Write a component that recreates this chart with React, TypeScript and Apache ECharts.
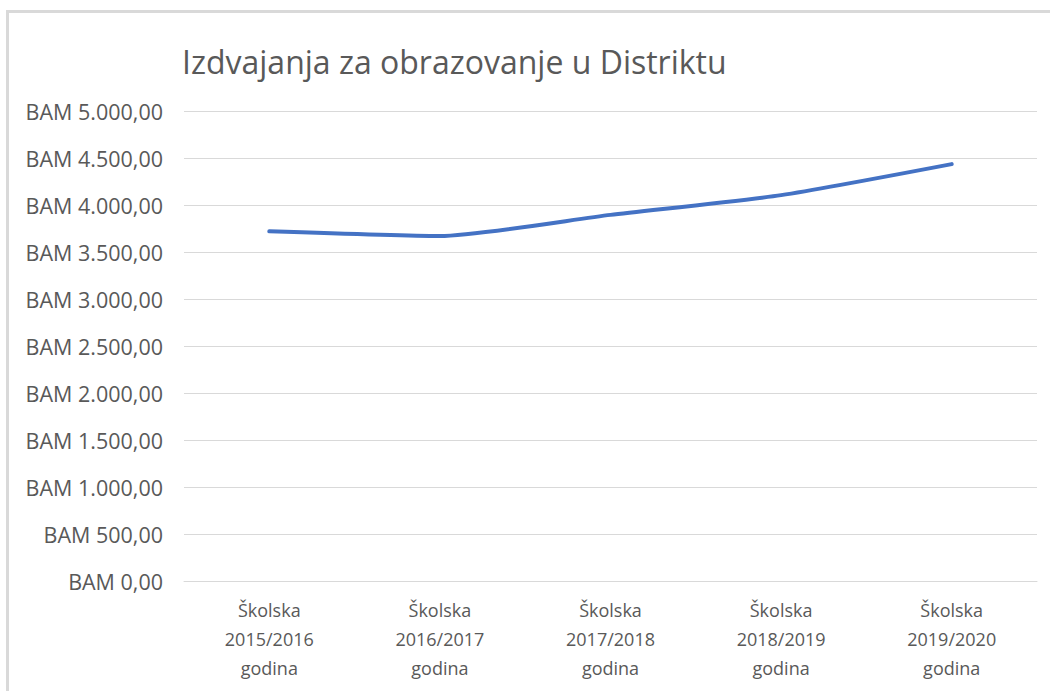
import React, { useEffect, useRef } from "react";
import * as echarts from "echarts";

const categories = [
  "Školska\n2015/2016\ngodina",
  "Školska\n2016/2017\ngodina",
  "Školska\n2017/2018\ngodina",
  "Školska\n2018/2019\ngodina",
  "Školska\n2019/2020\ngodina",
];
const values = [3720, 3670, 3895, 4105, 4435];
const yTicks = [0, 500, 1000, 1500, 2000, 2500, 3000, 3500, 4000, 4500, 5000];

const titleText = "Izdvajanja za obrazovanje u Distriktu";

function fmtBAM(v: number): string {
  const fixed = v.toFixed(2);
  const [intPart, dec] = fixed.split(".");
  const withSep = intPart.replace(/\B(?=(\d{3})+(?!\d))/g, ".");
  return "BAM " + withSep + "," + dec;
}

export default function App() {
  const ref = useRef<HTMLDivElement>(null);
  useEffect(() => {
    if (!ref.current) return;
    const chart = echarts.init(ref.current, undefined, { renderer: "svg" });
    chart.setOption({
      animation: false,
      backgroundColor: "#ffffff",
      title: {
        text: titleText,
        left: 177,
        top: 40,
        textStyle: {
          fontFamily: "Open Sans",
          fontSize: 32,
          fontWeight: "normal",
          color: "#595959",
        },
      },
      graphic: [
        {
          type: "rect",
          shape: { x: 6, y: 10, width: 3, height: 700 },
          style: { fill: "#d9d9d9" },
          silent: true,
        },
        {
          type: "rect",
          shape: { x: 6, y: 10, width: 1060, height: 3 },
          style: { fill: "#d9d9d9" },
          silent: true,
        },
      ],
      grid: {
        left: 184,
        right: 13,
        top: 111,
        bottom: 110,
        containLabel: false,
      },
      xAxis: {
        type: "category",
        data: categories,
        boundaryGap: true,
        axisLine: { show: true, lineStyle: { color: "#d9d9d9", width: 1 } },
        axisTick: { show: false },
        axisLabel: {
          margin: 14,
          fontFamily: "Open Sans",
          fontSize: 18,
          lineHeight: 29,
          color: "#595959",
          align: "center",
        },
      },
      yAxis: {
        type: "value",
        min: yTicks[0],
        max: yTicks[yTicks.length - 1],
        interval: 500,
        axisLine: { show: false },
        axisTick: { show: false },
        splitLine: { show: true, lineStyle: { color: "#d9d9d9", width: 1 } },
        axisLabel: {
          margin: 21,
          fontFamily: "Open Sans",
          fontSize: 21.5,
          color: "#595959",
          formatter: (v: number) => fmtBAM(v),
        },
      },
      series: [
        {
          type: "line",
          data: values,
          smooth: 0.2,
          symbol: "none",
          lineStyle: { color: "#4472c4", width: 4, cap: "round" },
        },
      ],
    });
    return () => chart.dispose();
  }, []);
  return (
    <div
      ref={ref}
      style={{ position: "fixed", left: 0, top: 0, width: 1050, height: 691 }}
    />
  );
}
